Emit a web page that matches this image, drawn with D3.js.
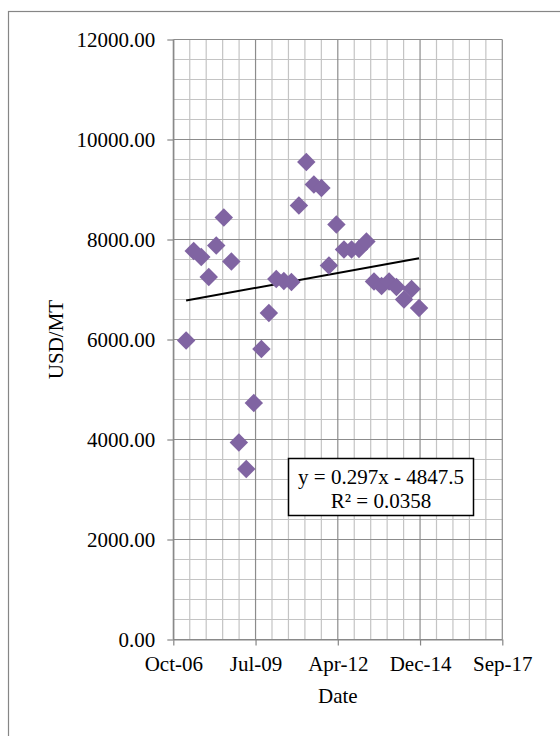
<!DOCTYPE html>
<html>
<head>
<meta charset="utf-8">
<script src="https://cdn.jsdelivr.net/npm/d3@7"></script>
<style>
  html, body { margin: 0; padding: 0; background: #ffffff; }
  svg { display: block; }
  text { font-family: "Liberation Serif", "Times New Roman", serif; fill: #000; }
</style>
</head>
<body>
<svg id="chart" width="560" height="736"></svg>
<script>
// Quarterly price observations (USD per metric ton)
const dates = [
  "2007-03-15", "2007-06-15", "2007-09-15", "2007-12-15",
  "2008-03-15", "2008-06-15", "2008-09-15", "2008-12-15",
  "2009-03-15", "2009-06-15", "2009-09-15", "2009-12-15",
  "2010-03-15", "2010-06-15", "2010-09-15", "2010-12-15",
  "2011-03-15", "2011-06-15", "2011-09-15", "2011-12-15",
  "2012-03-15", "2012-06-15", "2012-09-15", "2012-12-15",
  "2013-03-15", "2013-06-15", "2013-09-15", "2013-12-15",
  "2014-03-15", "2014-06-15", "2014-09-15", "2014-12-15"
];
const prices = [
  5980, 7770, 7650, 7250,
  7880, 8440, 7560, 3940,
  3410, 4730, 5810, 6530,
  7210, 7170, 7150, 8680,
  9550, 9100, 9030, 7480,
  8300, 7800, 7800, 7810,
  7960, 7160, 7070, 7160,
  7050, 6800, 7010, 6630
];

// Axis ranges (x in spreadsheet day serials)
const xTicks = [39000, 40000, 41000, 42000, 43000];
const yTicks = [0, 2000, 4000, 6000, 8000, 10000, 12000];
const yTickLabels = ["0.00", "2000.00", "4000.00", "6000.00", "8000.00", "10000.00", "12000.00"];

// Linear trend: y = slope * x + intercept
const trendSlope = 0.297;
const trendIntercept = -4847.5;
const trendText = ["y = 0.297x - 4847.5", "R\u00B2 = 0.0358"];

const xTitle = "Date";
const yTitle = "USD/MT";

const SERIF = '"Liberation Serif", "Times New Roman", serif';

// Spreadsheet serial date helpers
const EPOCH = Date.UTC(1899, 11, 30);
const toSerial = s => (Date.parse(s + "T00:00:00Z") - EPOCH) / 86400000;
const fromSerial = n => new Date(EPOCH + n * 86400000);

const points = dates.map((d, i) => ({ x: toSerial(d), y: prices[i] }));

const svg = d3.select("#chart");

// outer chart frame
svg.append("rect")
  .attr("x", 8.5).attr("y", 11.5)
  .attr("width", 600).attr("height", 800)
  .attr("fill", "#fff")
  .attr("stroke", "#868686").attr("stroke-width", 1.2);

const plot = { left: 173.3, right: 502.3, top: 39.5, bottom: 639.5 };

const x = d3.scaleLinear().domain([39000, 43000]).range([plot.left, plot.right]);
const y = d3.scaleLinear().domain([0, 12000]).range([plot.bottom, plot.top]);

const g = svg.append("g");

// minor gridlines
const xMinor = d3.range(39000, 43001, 200).filter(v => v % 1000 !== 0);
const yMinor = d3.range(0, 12001, 400).filter(v => v % 2000 !== 0);
g.append("g").selectAll("line").data(xMinor).join("line")
  .attr("x1", d => x(d)).attr("x2", d => x(d))
  .attr("y1", plot.top).attr("y2", plot.bottom)
  .attr("stroke", "#c4c4c4").attr("stroke-width", 1.2);
g.append("g").selectAll("line").data(yMinor).join("line")
  .attr("y1", d => y(d)).attr("y2", d => y(d))
  .attr("x1", plot.left).attr("x2", plot.right)
  .attr("stroke", "#c4c4c4").attr("stroke-width", 1.2);

// major gridlines
g.append("g").selectAll("line").data(xTicks).join("line")
  .attr("x1", d => x(d)).attr("x2", d => x(d))
  .attr("y1", plot.top).attr("y2", plot.bottom)
  .attr("stroke", "#8c8c8c").attr("stroke-width", 1.2);
g.append("g").selectAll("line").data(yTicks).join("line")
  .attr("y1", d => y(d)).attr("y2", d => y(d))
  .attr("x1", plot.left).attr("x2", plot.right)
  .attr("stroke", "#8c8c8c").attr("stroke-width", 1.2);

// axes
const fmtDate = d3.utcFormat("%b-%y");
const xAxis = d3.axisBottom(x).tickValues(xTicks)
  .tickFormat(d => fmtDate(fromSerial(d))).tickSizeInner(6).tickSizeOuter(0).tickPadding(11);
const yAxis = d3.axisLeft(y).tickValues(yTicks)
  .tickFormat((d, i) => yTickLabels[i]).tickSizeInner(6).tickSizeOuter(0).tickPadding(12);

const gx = svg.append("g").attr("transform", `translate(0,${plot.bottom})`).call(xAxis);
const gy = svg.append("g").attr("transform", `translate(${plot.left},0)`).call(yAxis);
[gx, gy].forEach(a => {
  a.attr("font-family", SERIF).attr("font-size", 21);
  a.select(".domain").attr("stroke", "#868686").attr("stroke-width", 1.2);
  a.selectAll(".tick line").attr("stroke", "#868686").attr("stroke-width", 1.2);
  a.selectAll(".tick text")
    .attr("font-family", SERIF)
    .style("font-family", SERIF)
    .style("font-size", "21px").attr("fill", "#000");
});

// axis titles
svg.append("text")
  .attr("x", (plot.left + plot.right) / 2).attr("y", 703)
  .attr("text-anchor", "middle").style("font-size", "21px")
  .text(xTitle);
svg.append("text")
  .attr("transform", `translate(63,${(plot.top + plot.bottom) / 2}) rotate(-90)`)
  .attr("text-anchor", "middle").style("font-size", "21px")
  .text(yTitle);

// trendline over the span of the data
const xExt = d3.extent(points, d => d.x);
svg.append("line")
  .attr("x1", x(xExt[0])).attr("y1", y(trendSlope * xExt[0] + trendIntercept))
  .attr("x2", x(xExt[1])).attr("y2", y(trendSlope * xExt[1] + trendIntercept))
  .attr("stroke", "#000").attr("stroke-width", 2);

// diamond markers
const diamond = d3.symbol().type(d3.symbolSquare).size(170);
svg.append("g").selectAll("path").data(points).join("path")
  .attr("d", diamond)
  .attr("transform", d => `translate(${x(d.x)},${y(d.y)}) rotate(45)`)
  .attr("fill", "#8064a2");

// trend equation box
const box = { x: 288.5, y: 458.5, w: 185, h: 57 };
svg.append("rect")
  .attr("x", box.x).attr("y", box.y).attr("width", box.w).attr("height", box.h)
  .attr("fill", "#fff").attr("stroke", "#000").attr("stroke-width", 1.5);
svg.append("g").selectAll("text").data(trendText).join("text")
  .attr("x", box.x + box.w / 2)
  .attr("y", (d, i) => box.y + 25 + i * 24)
  .attr("text-anchor", "middle").style("font-size", "21px")
  .text(d => d);
</script>
</body>
</html>
